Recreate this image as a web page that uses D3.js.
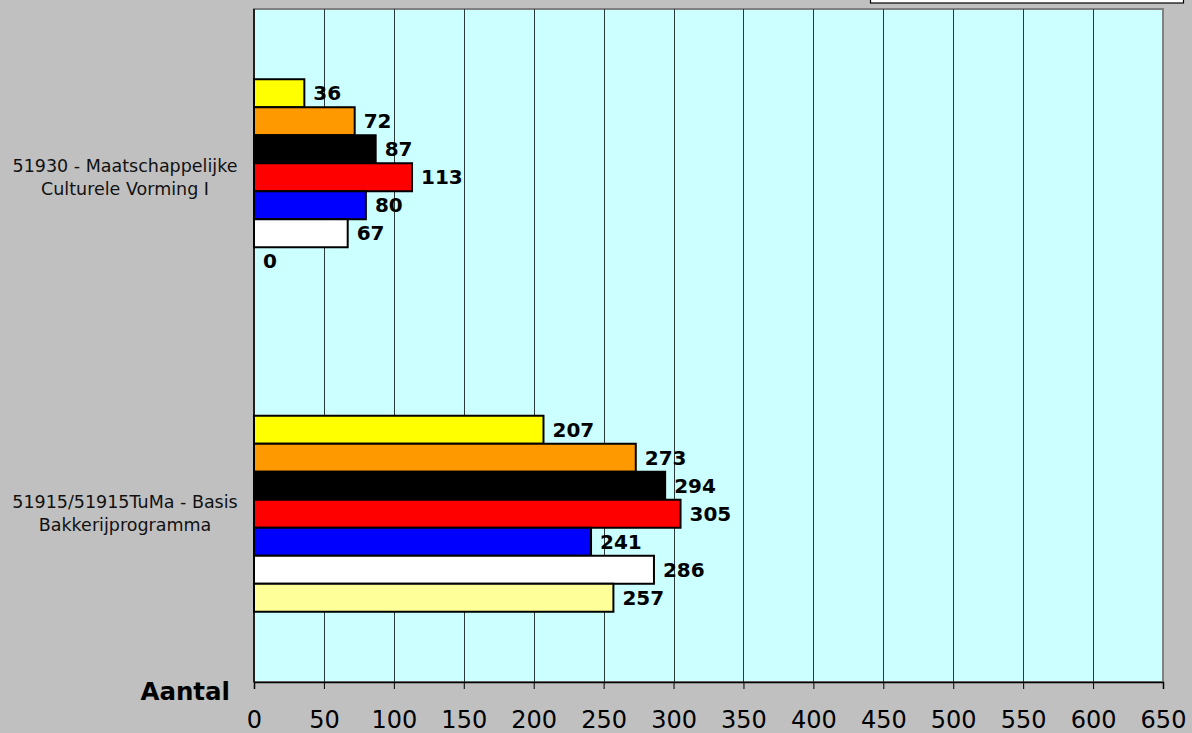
<!DOCTYPE html>
<html>
<head>
<meta charset="utf-8">
<script src="https://cdn.jsdelivr.net/npm/d3@7"></script>
<style>
  html, body { margin: 0; padding: 0; background: #c0c0c0; }
  svg { display: block; }
  text { font-family: "DejaVu Sans", Verdana, sans-serif; }
</style>
</head>
<body>
<script>
// ---- data ----
const categories = [
  ["51930 - Maatschappelijke", "Culturele Vorming I"],
  ["51915/51915TuMa - Basis", "Bakkerijprogramma"]
];
const seriesKeys = ["s1", "s2", "s3", "s4", "s5", "s6", "s7"];
const seriesColors = ["#ffff00", "#ff9900", "#000000", "#ff0000", "#0000ff", "#ffffff", "#ffff99"];
const valuesCat1 = [36, 72, 87, 113, 80, 67, 0];
const valuesCat2 = [207, 273, 294, 305, 241, 286, 257];
const xTicks = [0, 50, 100, 150, 200, 250, 300, 350, 400, 450, 500, 550, 600, 650];
const axisTitle = "Aantal";

const allValues = [valuesCat1, valuesCat2];

const W = 1192, H = 733;
const plot = { left: 254, right: 1163, top: 9, bottom: 682 };
const FONT = '"DejaVu Sans", Verdana, sans-serif';

const svg = d3.select("body").append("svg").attr("width", W).attr("height", H);

svg.append("rect").attr("width", W).attr("height", H).attr("fill", "#c0c0c0");

// legend box (mostly off-screen)
svg.append("rect").attr("x", 870.5).attr("y", -60).attr("width", 313).attr("height", 63)
  .attr("fill", "#ffffff").attr("stroke", "#000").attr("stroke-width", 1.2);

const x = d3.scaleLinear().domain([0, 650]).range([plot.left, plot.right]);
const catIdx = categories.map((d, i) => i);
const y0 = d3.scaleBand().domain(catIdx).range([plot.top, plot.bottom])
  .paddingInner(0.4175).paddingOuter(0.20875);
const y1 = d3.scaleBand().domain(seriesKeys).range([0, y0.bandwidth()]);

// plot area
svg.append("rect").attr("x", plot.left).attr("y", plot.top)
  .attr("width", plot.right - plot.left).attr("height", plot.bottom - plot.top)
  .attr("fill", "#ccffff").attr("stroke", "#808080").attr("stroke-width", 2);

// gridlines
svg.append("g").selectAll("line").data(xTicks.slice(1, -1)).join("line")
  .attr("x1", d => Math.round(x(d)) + 0.5).attr("x2", d => Math.round(x(d)) + 0.5)
  .attr("y1", plot.top).attr("y2", plot.bottom)
  .attr("stroke", "#2a3a3a").attr("stroke-width", 1);

// bars
const groups = svg.append("g").selectAll("g").data(catIdx).join("g")
  .attr("transform", i => `translate(0,${y0(i)})`);

groups.selectAll("rect").data(i => allValues[i].map((v, j) => ({ v, j })))
  .join("rect")
  .filter(d => d.v > 0)
  .attr("x", x(0))
  .attr("y", d => y1(seriesKeys[d.j]))
  .attr("width", d => x(d.v) - x(0))
  .attr("height", y1.bandwidth())
  .attr("fill", d => seriesColors[d.j])
  .attr("stroke", "#000").attr("stroke-width", 2);

groups.selectAll("text").data(i => allValues[i].map((v, j) => ({ v, j })))
  .join("text")
  .attr("x", d => x(d.v) + 9)
  .attr("y", d => y1(seriesKeys[d.j]) + y1.bandwidth() / 2 + 7)
  .attr("font-family", FONT)
  .attr("font-size", 20).attr("font-weight", "bold").attr("fill", "#000")
  .text(d => d.v);

// left axis line
svg.append("line").attr("x1", plot.left).attr("x2", plot.left)
  .attr("y1", plot.top).attr("y2", plot.bottom).attr("stroke", "#000").attr("stroke-width", 1.5);

// bottom axis
const xAxis = d3.axisBottom(x).tickValues(xTicks).tickSize(7).tickPadding(22).tickFormat(d3.format("d"));
const gx = svg.append("g").attr("transform", `translate(0,${plot.bottom})`).call(xAxis);
gx.select(".domain").attr("stroke", "#000").attr("stroke-width", 1.5);
gx.selectAll(".tick line").attr("stroke", "#000");
gx.selectAll(".tick text").attr("font-size", 24).attr("fill", "#000")
  .attr("font-family", FONT).attr("dy", "0.71em");

// category labels
categories.forEach((lines, i) => {
  const cy = y0(i) + y0.bandwidth() / 2;
  const t = svg.append("text").attr("text-anchor", "middle").attr("font-size", 17.5)
    .attr("font-family", FONT).attr("fill", "#111");
  lines.forEach((ln, k) => {
    t.append("tspan").attr("x", 125).attr("y", cy - 11.5 + k * 23 + 6).text(ln);
  });
});

// axis title
svg.append("text").attr("x", 230).attr("y", 700).attr("text-anchor", "end")
  .attr("font-family", FONT)
  .attr("font-size", 24.5).attr("font-weight", "bold").attr("fill", "#000").text(axisTitle);
</script>
</body>
</html>
